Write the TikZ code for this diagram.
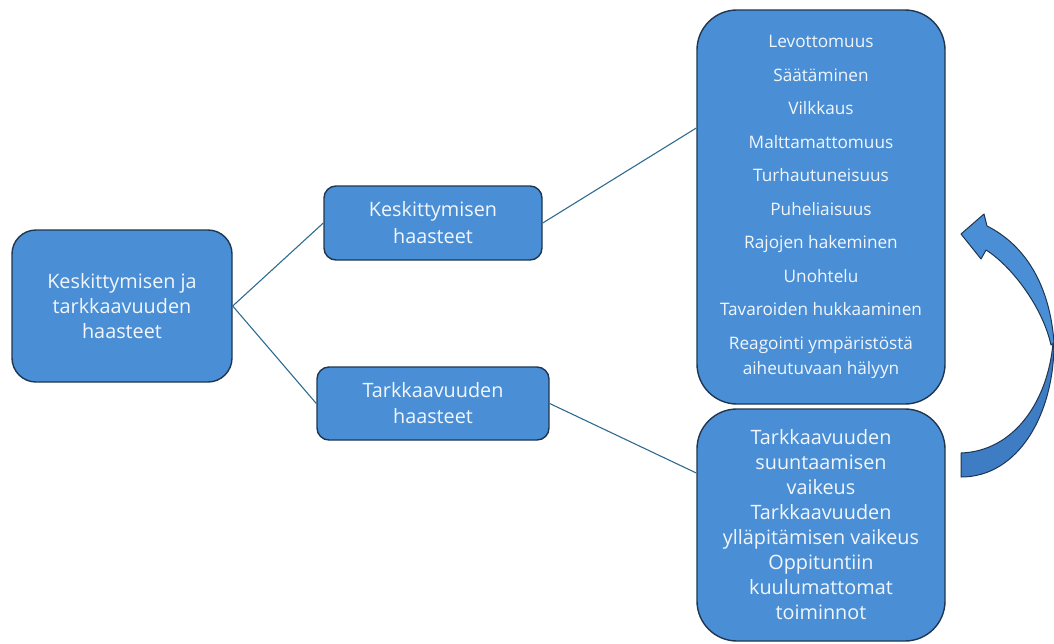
\documentclass[tikz,border=0pt]{standalone}
\usepackage{fontspec}
\setmainfont{Open Sans}
\definecolor{boxfill}{HTML}{4A8FD6}
\definecolor{boxedge}{HTML}{1E3650}
\definecolor{linkcol}{HTML}{2F6B8F}
\definecolor{txt}{HTML}{F2F6FB}
\definecolor{arrowback}{HTML}{3E7CC4}
\begin{document}
\begin{tikzpicture}[x=1pt,y=-1pt,
  box/.style={draw=boxedge, line width=1.4pt, fill=boxfill, text=txt,
    align=center, inner sep=0pt, font=\fontsize{19.8}{25}\selectfont},
  listbox/.style={box, font=\fontsize{17.2}{33.5}\selectfont},
  link/.style={draw=linkcol, line width=1.1pt},
  bigarrow/.style={draw=boxedge, line width=1pt, line join=round}]
\useasboundingbox (0,0) rectangle (1054,643);

% main topic
\node[box, rounded corners=24pt, minimum width=220pt, minimum height=152pt]
  (root) at (122,306) {Keskittymisen ja\\tarkkaavuuden\\haasteet};

% two branches
\node[box, rounded corners=12pt, minimum width=218pt, minimum height=74pt,
  font=\fontsize{19.8}{27}\selectfont]
  (conc) at (433,223) {Keskittymisen\\haasteet};
\node[box, rounded corners=12pt, minimum width=232pt, minimum height=73pt,
  font=\fontsize{19.8}{26}\selectfont]
  (attn) at (433,403.5) {Tarkkaavuuden\\haasteet};

% detail lists
\node[listbox, rounded corners=40pt, minimum width=248pt, minimum height=394pt]
  (conclist) at (821,207) {Levottomuus\\S\"a\"at\"aminen\\Vilkkaus\\Malttamattomuus\\
  Turhautuneisuus\\Puheliaisuus\\Rajojen hakeminen\\Unohtelu\\
  Tavaroiden hukkaaminen\\Reagointi ymp\"arist\"ost\"a\\[-8.5pt]aiheutuvaan h\"alyyn};
\node[box, rounded corners=40pt, minimum width=248pt, minimum height=232pt]
  (attnlist) at (821,525) {Tarkkaavuuden\\suuntaamisen\\vaikeus\\Tarkkaavuuden\\
  yll\"apit\"amisen vaikeus\\Oppituntiin\\kuulumattomat\\toiminnot};

% connectors
\draw[link] (root.east) -- (conc.west);
\draw[link] (root.east) -- (attn.west);
\draw[link] (conc.east) -- ([yshift=79pt]conclist.west);
\draw[link] (attn.east) -- ([yshift=52pt]attnlist.west);

% curved arrow: lower (back) part of the band
\fill[arrowback, bigarrow]
  (1054,343) .. controls (1054,415) and (1018,477) .. (961,477)
  -- (961,453) .. controls (1015,451) and (1048,400) .. (1053,343) -- cycle;
% upper part of the band with the head
\fill[boxfill, bigarrow]
  (1054,343) .. controls (1050,285) and (1025,245) .. (987,226)
  -- (984,214) -- (961,234) -- (981,259) -- (986,250)
  .. controls (1010,265) and (1042,305) .. (1051,345) -- cycle;
\end{tikzpicture}
\end{document}
